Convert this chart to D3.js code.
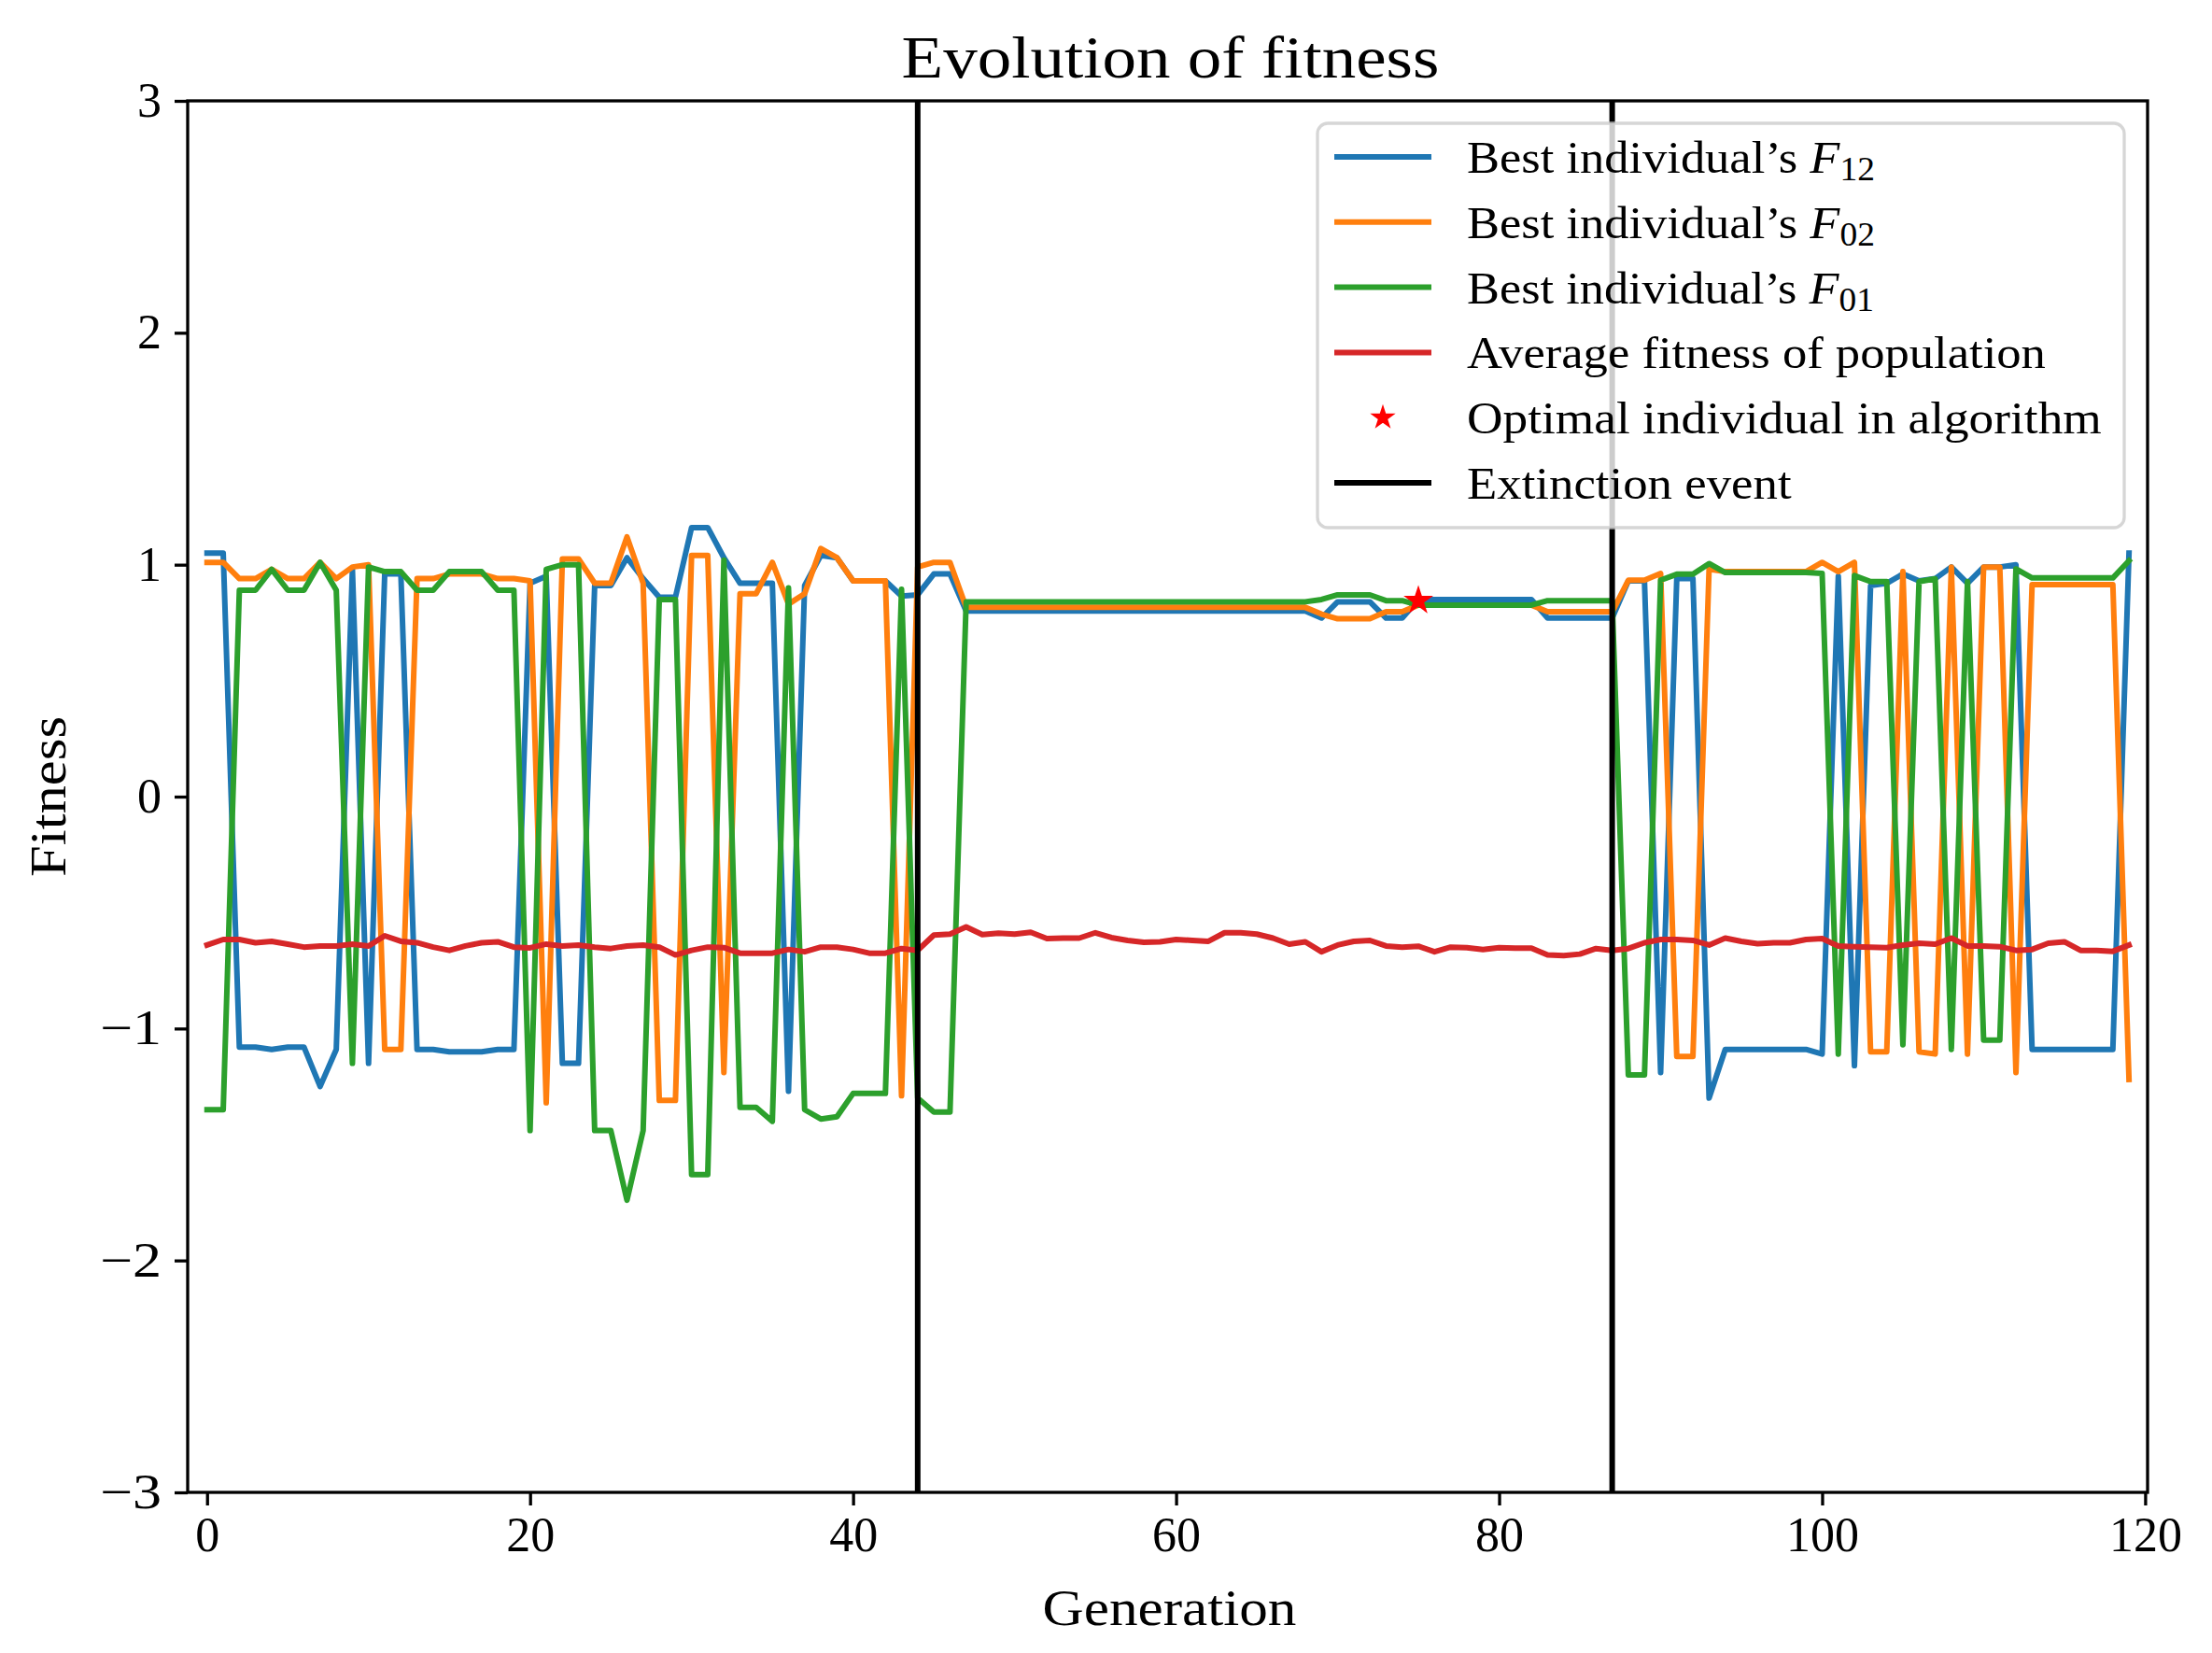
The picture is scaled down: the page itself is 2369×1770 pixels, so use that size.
<!DOCTYPE html>
<html>
<head>
<meta charset="utf-8">
<script src="https://cdn.jsdelivr.net/npm/d3@7"></script>
<style>
  body { margin: 0; background: #fff; }
  svg { display: block; }
</style>
</head>
<body>
<div id="chart"></div>
<script>
// values, one per generation (0..119)
const generations = d3.range(120);

const bestF12 = [
  1.05, 1.05, -1.08, -1.08, -1.09, -1.08, -1.08, -1.25, -1.09, 0.98,
  -1.15, 0.96, 0.96, -1.09, -1.09, -1.10, -1.10, -1.10, -1.09, -1.09,
  0.92, 0.95, -1.15, -1.15, 0.91, 0.91, 1.03, 0.94, 0.86, 0.86,
  1.16, 1.16, 1.03, 0.92, 0.92, 0.92, -1.27, 0.91, 1.04, 1.03,
  0.93, 0.93, 0.93, 0.865, 0.87, 0.96, 0.96, 0.80, 0.80, 0.80,
  0.80, 0.80, 0.80, 0.80, 0.80, 0.80, 0.80, 0.80, 0.80, 0.80,
  0.80, 0.80, 0.80, 0.80, 0.80, 0.80, 0.80, 0.80, 0.80, 0.77,
  0.84, 0.84, 0.84, 0.77, 0.77, 0.85, 0.85, 0.85, 0.85, 0.85,
  0.85, 0.85, 0.85, 0.77, 0.77, 0.77, 0.77, 0.77, 0.93, 0.93,
  -1.19, 0.94, 0.94, -1.30, -1.09, -1.09, -1.09, -1.09, -1.09, -1.09,
  -1.11, 0.95, -1.16, 0.91, 0.92, 0.96, 0.93, 0.94, 0.99, 0.92,
  0.99, 0.99, 1.00, -1.09, -1.09, -1.09, -1.09, -1.09, -1.09, 1.05
];

const bestF02 = [
  1.01, 1.01, 0.94, 0.94, 0.98, 0.94, 0.94, 1.01, 0.94, 0.99,
  1.00, -1.09, -1.09, 0.94, 0.94, 0.96, 0.96, 0.96, 0.94, 0.94,
  0.93, -1.32, 1.025, 1.025, 0.92, 0.92, 1.12, 0.92, -1.31, -1.31,
  1.04, 1.04, -1.19, 0.875, 0.875, 1.01, 0.83, 0.875, 1.07, 1.03,
  0.93, 0.93, 0.93, -1.29, 0.99, 1.01, 1.01, 0.816, 0.816, 0.816,
  0.816, 0.816, 0.816, 0.816, 0.816, 0.816, 0.816, 0.816, 0.816, 0.816,
  0.816, 0.816, 0.816, 0.816, 0.816, 0.816, 0.816, 0.816, 0.816, 0.787,
  0.767, 0.767, 0.767, 0.797, 0.797, 0.826, 0.826, 0.826, 0.826, 0.826,
  0.826, 0.826, 0.826, 0.797, 0.797, 0.797, 0.797, 0.797, 0.933, 0.933,
  0.962, -1.12, -1.12, 0.98, 0.97, 0.97, 0.97, 0.97, 0.97, 0.97,
  1.01, 0.97, 1.01, -1.10, -1.10, 0.97, -1.10, -1.11, 0.99, -1.11,
  0.99, 0.99, -1.19, 0.914, 0.914, 0.914, 0.914, 0.914, 0.914, -1.22
];

const bestF01 = [
  -1.35, -1.35, 0.89, 0.89, 0.98, 0.89, 0.89, 1.01, 0.89, -1.15,
  0.99, 0.97, 0.97, 0.89, 0.89, 0.97, 0.97, 0.97, 0.89, 0.89,
  -1.44, 0.98, 1.00, 1.00, -1.44, -1.44, -1.74, -1.44, 0.85, 0.85,
  -1.63, -1.63, 1.02, -1.34, -1.34, -1.40, 0.90, -1.35, -1.39, -1.38,
  -1.28, -1.28, -1.28, 0.894, -1.30, -1.36, -1.36, 0.84, 0.84, 0.84,
  0.84, 0.84, 0.84, 0.84, 0.84, 0.84, 0.84, 0.84, 0.84, 0.84,
  0.84, 0.84, 0.84, 0.84, 0.84, 0.84, 0.84, 0.84, 0.84, 0.85,
  0.87, 0.87, 0.87, 0.845, 0.845, 0.826, 0.826, 0.826, 0.826, 0.826,
  0.826, 0.826, 0.826, 0.845, 0.845, 0.845, 0.845, 0.845, -1.20, -1.20,
  0.933, 0.959, 0.959, 1.005, 0.966, 0.966, 0.966, 0.966, 0.966, 0.966,
  0.962, -1.11, 0.953, 0.927, 0.927, -1.07, 0.927, 0.939, -1.09, 0.927,
  -1.05, -1.05, 0.982, 0.943, 0.943, 0.943, 0.943, 0.943, 0.943, 1.017
];

const avgFitness = [
  -0.640, -0.616, -0.616, -0.630, -0.624, -0.636, -0.649, -0.644, -0.644, -0.636,
  -0.644, -0.600, -0.624, -0.630, -0.649, -0.663, -0.644, -0.630, -0.626, -0.649,
  -0.652, -0.636, -0.644, -0.640, -0.649, -0.655, -0.644, -0.640, -0.649, -0.683,
  -0.663, -0.649, -0.651, -0.675, -0.675, -0.675, -0.659, -0.669, -0.649, -0.649,
  -0.659, -0.675, -0.675, -0.655, -0.663, -0.597, -0.593, -0.562, -0.595, -0.589,
  -0.593, -0.585, -0.612, -0.610, -0.610, -0.587, -0.608, -0.620, -0.628, -0.626,
  -0.616, -0.620, -0.624, -0.587, -0.587, -0.593, -0.610, -0.636, -0.626, -0.669,
  -0.640, -0.624, -0.620, -0.644, -0.649, -0.645, -0.669, -0.649, -0.651, -0.659,
  -0.651, -0.653, -0.653, -0.683, -0.686, -0.679, -0.655, -0.663, -0.655, -0.630,
  -0.616, -0.616, -0.620, -0.640, -0.610, -0.624, -0.634, -0.630, -0.630, -0.616,
  -0.612, -0.644, -0.647, -0.649, -0.651, -0.640, -0.632, -0.636, -0.610, -0.644,
  -0.644, -0.647, -0.663, -0.659, -0.632, -0.626, -0.663, -0.663, -0.667, -0.640
];

const optimalGen = [75];
const optimalFit = [0.845];
const extinctionGens = [44, 87];

const xTicks = [0, 20, 40, 60, 80, 100, 120];
const yTicks = [-3, -2, -1, 0, 1, 2, 3];

const legendItems = [
  { text: "Best individual\u2019s ", sym: "F", sub: "12", color: "#1f77b4", kind: "line" },
  { text: "Best individual\u2019s ", sym: "F", sub: "02", color: "#ff7f0e", kind: "line" },
  { text: "Best individual\u2019s ", sym: "F", sub: "01", color: "#2ca02c", kind: "line" },
  { text: "Average fitness of population", color: "#d62728", kind: "line" },
  { text: "Optimal individual in algorithm", color: "#ff0000", kind: "star" },
  { text: "Extinction event", color: "#000000", kind: "line" }
];
const legendWidths = [437, 437, 436, 620, 680, 348];

const W = 2369, H = 1770;
const FONT = "'Liberation Serif', 'DejaVu Serif', serif";
const plot = { left: 201, right: 2300, top: 108, bottom: 1598 };

const svg = d3.select("#chart").append("svg")
    .attr("width", W).attr("height", H)
    .attr("viewBox", [0, 0, W, H])
    .style("background", "#fff");

const x = d3.scaleLinear().domain([-1.2, 120.15]).range([plot.left, plot.right]);
const y = d3.scaleLinear().domain([-3, 3]).range([plot.bottom, plot.top]);

// squeeze / stretch a text horizontally around cx so it spans `target` px
function fitX(sel, target, cx) {
    const w = sel.node().getBBox().width;
    const k = target / w;
    sel.attr("transform", `translate(${cx},0) scale(${k},1) translate(${-cx},0)`);
}

const line = d3.line()
    .x((d, i) => x(generations[i]))
    .y(d => y(d));

const series = [
    { values: bestF12, color: "#1f77b4" },
    { values: bestF02, color: "#ff7f0e" },
    { values: bestF01, color: "#2ca02c" },
    { values: avgFitness, color: "#d62728" }
];

svg.append("g")
  .selectAll("path")
  .data(series)
  .join("path")
    .attr("d", d => line(d.values))
    .attr("fill", "none")
    .attr("stroke", d => d.color)
    .attr("stroke-width", 6)
    .attr("stroke-linejoin", "round")
    .attr("stroke-linecap", "square");

// matplotlib '*' marker: filled star with a thin edge of the same colour
const star = d3.symbol().type(d3.symbolStar).size(180);
svg.append("g")
  .selectAll("path")
  .data(optimalGen)
  .join("path")
    .attr("d", star)
    .attr("transform", (d, i) => `translate(${x(d)},${y(optimalFit[i])})`)
    .attr("fill", "#ff0000")
    .attr("stroke", "#ff0000")
    .attr("stroke-width", 2.5);

svg.append("g")
  .selectAll("line")
  .data(extinctionGens)
  .join("line")
    .attr("x1", d => x(d)).attr("x2", d => x(d))
    .attr("y1", plot.top).attr("y2", plot.bottom)
    .attr("stroke", "#000")
    .attr("stroke-width", 6);

// axes
const xAxis = svg.append("g")
    .attr("transform", `translate(0,${plot.bottom})`)
    .call(d3.axisBottom(x).tickValues(xTicks).tickSize(14).tickPadding(12).tickSizeOuter(0))
    .call(g => g.select(".domain").remove());
xAxis.selectAll(".tick line").attr("stroke", "#000").attr("stroke-width", 3.3);
xAxis.selectAll(".tick text")
    .attr("fill", "#000")
    .style("font-family", FONT)
    .style("font-size", "52px");

const yAxis = svg.append("g")
    .attr("transform", `translate(${plot.left},0)`)
    .call(d3.axisLeft(y).tickValues(yTicks).tickSize(14).tickPadding(14).tickSizeOuter(0)
        .tickFormat(d => d < 0 ? "\u2212" + Math.abs(d) : String(d)))
    .call(g => g.select(".domain").remove());
yAxis.selectAll(".tick line").attr("stroke", "#000").attr("stroke-width", 3.3);
yAxis.selectAll(".tick text")
    .attr("fill", "#000")
    .style("font-family", FONT)
    .style("font-size", "52px")
    .each(function (d) {
        if (d < 0) fitX(d3.select(this), 66, -28);
    });

// frame
svg.append("rect")
    .attr("x", plot.left).attr("y", plot.top)
    .attr("width", plot.right - plot.left).attr("height", plot.bottom - plot.top)
    .attr("fill", "none").attr("stroke", "#000").attr("stroke-width", 3.3);

// title and axis labels
const cx = (plot.left + plot.right) / 2;
const title = svg.append("text")
    .attr("x", cx + 3).attr("y", 83)
    .attr("text-anchor", "middle")
    .style("font-family", FONT).style("font-size", "64px")
    .text("Evolution of fitness");
fitX(title, 576, cx + 3);

const xLabel = svg.append("text")
    .attr("x", cx + 2).attr("y", 1740)
    .attr("text-anchor", "middle")
    .style("font-family", FONT).style("font-size", "55px")
    .text("Generation");
fitX(xLabel, 272, cx + 2);

const yLabelG = svg.append("g")
    .attr("transform", `translate(70,${(plot.top + plot.bottom) / 2}) rotate(-90)`);
const yLabel = yLabelG.append("text")
    .attr("text-anchor", "middle")
    .style("font-family", FONT).style("font-size", "55px")
    .text("Fitness");
fitX(yLabel, 172, 0);

// legend
const lg = { x: 1411, y: 132, w: 864, h: 433, row0: 168, step: 69.8 };
const legend = svg.append("g");
legend.append("rect")
    .attr("x", lg.x).attr("y", lg.y).attr("width", lg.w).attr("height", lg.h)
    .attr("rx", 11)
    .attr("fill", "#fff").attr("fill-opacity", 0.8)
    .attr("stroke", "#cccccc").attr("stroke-opacity", 0.8).attr("stroke-width", 3.3);

legendItems.forEach((item, i) => {
    const cy = lg.row0 + i * lg.step;
    if (item.kind === "line") {
        legend.append("line")
            .attr("x1", 1429).attr("x2", 1533).attr("y1", cy).attr("y2", cy)
            .attr("stroke", item.color).attr("stroke-width", 6);
    } else {
        legend.append("path")
            .attr("d", d3.symbol().type(d3.symbolStar).size(120))
            .attr("transform", `translate(1481,${cy})`)
            .attr("fill", item.color)
            .attr("stroke", item.color)
            .attr("stroke-width", 2.5);
    }
    const t = legend.append("text")
        .attr("x", 1571).attr("y", cy + 17)
        .style("font-family", FONT).style("font-size", "49px")
        .text(item.text);
    if (item.sym) {
        t.append("tspan").style("font-style", "italic").text(item.sym);
        t.append("tspan").attr("dy", 8).style("font-size", "35px").text(item.sub);
    }
    fitX(t, legendWidths[i], 1571);
});
</script>
</body>
</html>
